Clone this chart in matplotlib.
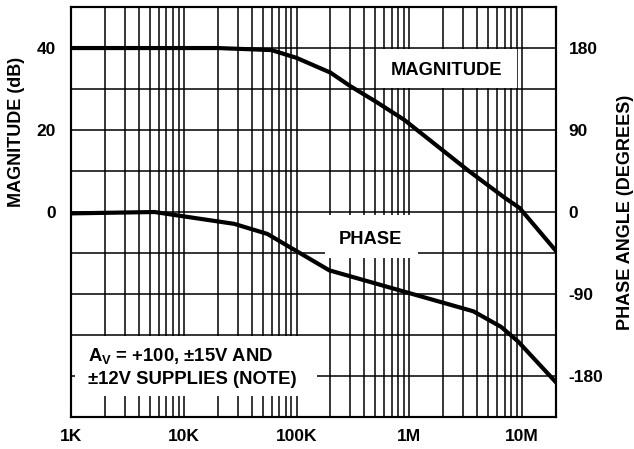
import numpy as np
import matplotlib.pyplot as plt
from matplotlib.patches import Rectangle
from matplotlib.ticker import NullFormatter

plt.rcParams['font.family'] = ['Liberation Sans', 'DejaVu Sans']
plt.rcParams['font.weight'] = 'bold'
plt.rcParams['axes.labelweight'] = 'bold'
plt.rcParams['axes.unicode_minus'] = False
plt.rcParams['mathtext.fontset'] = 'custom'
plt.rcParams['mathtext.rm'] = 'Liberation Sans:bold'
plt.rcParams['mathtext.bf'] = 'Liberation Sans:bold'

# magnitude curve (dB)
mag_freq = [1e3, 2e4, 6e4, 1e5, 2e5, 3e5, 5e5, 9e5, 3.3e6, 7e6, 9.5e6, 2e7]
mag_db = [40, 40, 39.5, 37.6, 34, 30.7, 27, 22.5, 10.2, 3.5, 1.0, -9.5]

# phase curve (degrees)
ph_freq = [1e3, 5.5e3, 2.8e4, 5.5e4, 1.95e5, 1e6, 3.7e6, 6.5e6, 9.2e6, 2e7]
ph_deg = [-1.5, 0, -13, -24, -64, -89, -109, -126, -142, -187]

x_ticks = [1e3, 1e4, 1e5, 1e6, 1e7]
x_labels = ['1K', '10K', '100K', '1M', '10M']
mag_ticks = [0, 20, 40]
ph_ticks = [180, 90, 0, -90, -180]

fig = plt.figure(figsize=(6.34, 4.49), dpi=100)
ax = fig.add_axes([0.112, 0.0713, 0.765, 0.913])
ax2 = ax.twinx()

ax.set_xscale('log')
ax.set_xlim(1e3, 2e7)
ax.set_ylim(-50, 50)
ax2.set_ylim(-225, 225)

# grid
ax.set_axisbelow(True)
ax.set_yticks(np.arange(-50, 51, 10))
ax.set_yticklabels([str(v) if v in mag_ticks else '' for v in np.arange(-50, 51, 10)])
ax.set_xticks(x_ticks)
ax.set_xticklabels(x_labels)
ax.xaxis.set_minor_formatter(NullFormatter())
ax.grid(True, which='both', axis='x', color='black', lw=1.1)
ax.grid(True, which='major', axis='y', color='black', lw=1.1)
ax.tick_params(which='both', length=0, labelsize=12.5)
ax.tick_params(axis='y', pad=11)
ax.tick_params(axis='x', pad=9)

ax2.set_yticks(ph_ticks)
ax2.tick_params(length=0, labelsize=12.5, pad=9)

for a in (ax, ax2):
    for s in a.spines.values():
        s.set_linewidth(1.5)

# white label boxes
ax.add_patch(Rectangle((5.05e5, 30.2), 9e6 / 1.006 - 5.05e5, 9.6,
                       facecolor='white', edgecolor='none', zorder=1))
ax.add_patch(Rectangle((1.79e5, -11.3), 1.19e6 - 1.79e5, 10.5,
                       facecolor='white', edgecolor='none', zorder=1))
ax.add_patch(Rectangle((1.09e3, -44.9), 1.52e5 - 1.09e3, 14.7,
                       facecolor='white', edgecolor='none', zorder=1))

ax.text(2.15e6, 34.4, 'MAGNITUDE', ha='center', va='center', fontsize=13.2, zorder=2)
ax.text(4.5e5, -6.8, 'PHASE', ha='center', va='center', fontsize=13.2, zorder=2)
ax.text(0.035, 0.122, 'A$_{\\mathrm{V}}$ = +100, ±15V AND\n±12V SUPPLIES (NOTE)',
        transform=ax.transAxes, ha='left', va='center', fontsize=13.3,
        linespacing=1.45, zorder=2)

ax.plot(mag_freq, mag_db, color='black', lw=3, solid_joinstyle='miter', zorder=3)
ax2.plot(ph_freq, ph_deg, color='black', lw=3, solid_joinstyle='miter', zorder=3)

ax.set_ylabel('MAGNITUDE (dB)', fontsize=13)
ax.yaxis.set_label_coords(-0.095, 0.695)
ax2.set_ylabel('PHASE ANGLE (DEGREES)', fontsize=13)
ax2.yaxis.set_label_coords(1.126, 0.5)

fig.savefig('out.png', dpi=100)
